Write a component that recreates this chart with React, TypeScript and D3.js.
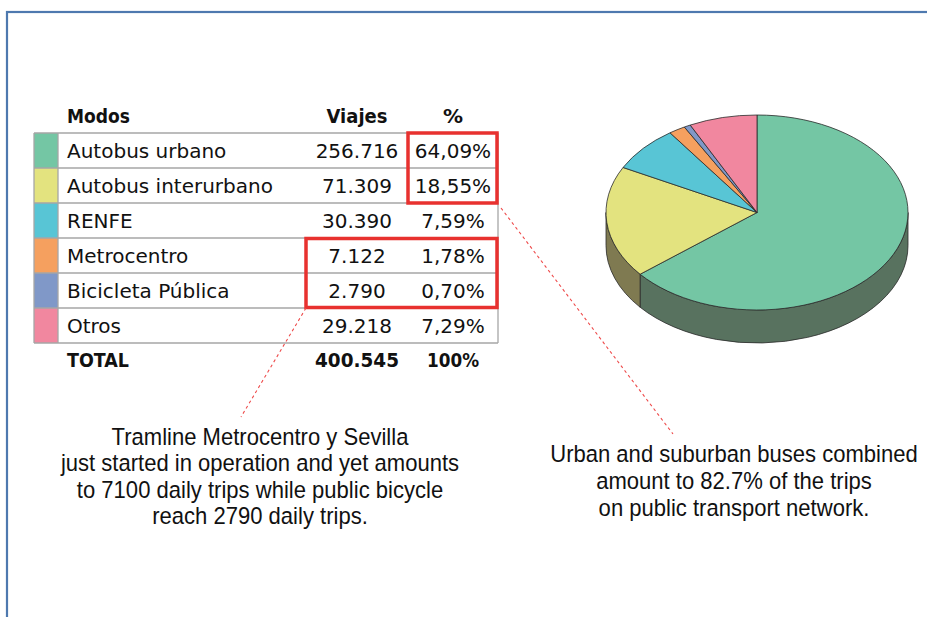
import React from "react";
import * as d3 from "d3";

// ---------- data ----------
const modes = ["Autobus urbano", "Autobus interurbano", "RENFE", "Metrocentro", "Bicicleta Pública", "Otros"];
const trips = [256716, 71309, 30390, 7122, 2790, 29218];
const shares = [64.09, 18.55, 7.59, 1.78, 0.7, 7.29];
const totalTrips = 400545;
const totalShare = 100;
const headers = ["Modos", "Viajes", "%"];
const totalLabel = "TOTAL";
const noteLeft = [
  "Tramline Metrocentro y Sevilla",
  "just started in operation and yet amounts",
  "to 7100 daily trips while public bicycle",
  "reach 2790 daily trips.",
];
const noteRight = [
  "Urban and suburban buses combined",
  "amount to 82.7% of the trips",
  "on public transport network.",
];

// ---------- style ----------
const topColors = ["#74C6A4", "#E3E37F", "#58C5D5", "#F5A05F", "#8098C8", "#F1879F"];
const sideColors = ["#58725F", "#7F7A51", "#3F7F88", "#8A5A35", "#4A5A80", "#8A4D5C"];

const W = 927;
const H = 617;
const locale = d3.formatLocale({ decimal: ",", thousands: ".", grouping: [3], currency: ["", "€"] });
const fmtTrips = locale.format(",");
const fmtPct = locale.format(".2f");

// table layout
const X0 = 34, XSW = 58, XVI = 306, XPC = 408, X1 = 498;
const ROW_TOP = 133, ROW_H = 35;
const yRow = d3.scaleBand<string>().domain(modes).range([ROW_TOP, ROW_TOP + ROW_H * modes.length]);
const TABLE_FONT = "'DejaVu Sans', Verdana, sans-serif";
const NOTE_FONT = "'Liberation Sans', Arial, Helvetica, sans-serif";

// pie layout
const CX = 757, CY = 212.5, RX = 151, RY = 97.5, DEPTH = 33;

function pt(a: number, dy = 0): string {
  return `${CX + RX * Math.sin(a)},${CY - RY * Math.cos(a) + dy}`;
}

export default function App() {
  const arcs = d3.pie<number>().sort(null).value((d) => d).startAngle(0).endAngle(2 * Math.PI)(shares);

  const tops = arcs.map((a) => {
    const large = a.endAngle - a.startAngle > Math.PI ? 1 : 0;
    return `M${CX},${CY} L${pt(a.startAngle)} A${RX},${RY} 0 ${large} 1 ${pt(a.endAngle)} Z`;
  });
  const sides = arcs.map((a) => {
    const s0 = Math.max(a.startAngle, Math.PI / 2);
    const s1 = Math.min(a.endAngle, (3 * Math.PI) / 2);
    if (s1 <= s0) return null;
    return `M${pt(s0)} A${RX},${RY} 0 0 1 ${pt(s1)} L${pt(s1, DEPTH)} A${RX},${RY} 0 0 0 ${pt(s0, DEPTH)} Z`;
  });

  const tableBottom = ROW_TOP + ROW_H * modes.length;
  const viCenter = (XVI + XPC) / 2;
  const pcCenter = (XPC + X1) / 2;
  const lineColor = "#A6A6A6";

  return (
    <div style={{ position: "absolute", left: 0, top: 0 }}>
      <svg width={W} height={H} viewBox={`0 0 ${W} ${H}`} style={{ display: "block", background: "#fff" }}>
        {/* frame */}
        <rect x={7} y={12} width={W + 50} height={H + 50} fill="none" stroke="#4E79AF" strokeWidth={2.2} />

        {/* table header */}
        <g fontFamily={TABLE_FONT} fontSize={20} fontWeight="bold" fill="#111">
          <text x={67} y={123} textLength={63} lengthAdjust="spacingAndGlyphs">{headers[0]}</text>
          <text x={viCenter} y={123} textAnchor="middle" textLength={61} lengthAdjust="spacingAndGlyphs">{headers[1]}</text>
          <text x={pcCenter} y={123} textAnchor="middle">{headers[2]}</text>
        </g>

        {/* swatches */}
        {modes.map((m, i) => (
          <rect key={m} x={X0} y={yRow(m)!} width={XSW - X0} height={yRow.bandwidth()} fill={topColors[i]} />
        ))}

        {/* grid */}
        <g stroke={lineColor} strokeWidth={1.3}>
          {d3.range(modes.length + 1).map((i) => (
            <line key={i} x1={X0} x2={X1} y1={ROW_TOP + i * ROW_H} y2={ROW_TOP + i * ROW_H} />
          ))}
          <line x1={X0} x2={X0} y1={ROW_TOP} y2={tableBottom} />
          <line x1={XSW} x2={XSW} y1={ROW_TOP} y2={tableBottom} />
          <line x1={X1} x2={X1} y1={ROW_TOP} y2={tableBottom} />
        </g>

        {/* rows */}
        <g fontFamily={TABLE_FONT} fontSize={20} fill="#111">
          {modes.map((m, i) => {
            const y = yRow(m)! + 25;
            return (
              <g key={m}>
                <text x={67} y={y}>{m}</text>
                <text x={viCenter} y={y} textAnchor="middle">{fmtTrips(trips[i])}</text>
                <text x={pcCenter} y={y} textAnchor="middle">{fmtPct(shares[i]) + "%"}</text>
              </g>
            );
          })}
        </g>

        {/* total */}
        <g fontFamily={TABLE_FONT} fontSize={20} fontWeight="bold" fill="#111">
          <text x={67} y={tableBottom + 24} textLength={62} lengthAdjust="spacingAndGlyphs">{totalLabel}</text>
          <text x={viCenter} y={tableBottom + 24} textAnchor="middle" textLength={84} lengthAdjust="spacingAndGlyphs">{fmtTrips(totalTrips)}</text>
          <text x={pcCenter} y={tableBottom + 24} textAnchor="middle" textLength={52} lengthAdjust="spacingAndGlyphs">{totalShare + "%"}</text>
        </g>

        {/* red highlight boxes */}
        <g fill="none" stroke="#E8312F" strokeWidth={3.5}>
          <rect x={XPC} y={yRow(modes[0])!} width={X1 - XPC - 1} height={ROW_H * 2} />
          <rect x={XVI} y={yRow(modes[3])! + 0.5} width={X1 - XVI - 1} height={ROW_H * 2 - 1} />
        </g>

        {/* dashed leaders */}
        <g stroke="#EE4A4A" strokeWidth={1.1} strokeDasharray="3,3">
          <line x1={XVI} y1={yRow(modes[4])! + ROW_H} x2={241} y2={417} />
          <line x1={501} y1={208} x2={673} y2={434} />
        </g>

        {/* 3D pie */}
        <g stroke="#2A2A2A" strokeWidth={0.8} strokeLinejoin="round">
          {sides.map((d, i) => (d ? <path key={"s" + i} d={d} fill={sideColors[i]} /> : null))}
          {tops.map((d, i) => (
            <path key={"t" + i} d={d} fill={topColors[i]} />
          ))}
        </g>

        {/* notes */}
        <g fontFamily={NOTE_FONT} fontSize={24.5} fill="#111" textAnchor="middle">
          <g transform="translate(260,0) scale(0.9,1)">
            {noteLeft.map((t, i) => (
              <text key={i} x={0} y={445 + i * 26.3}>{t}</text>
            ))}
          </g>
          <g transform="translate(734,0) scale(0.9,1)">
            {noteRight.map((t, i) => (
              <text key={i} x={0} y={462 + i * 27}>{t}</text>
            ))}
          </g>
        </g>
      </svg>
    </div>
  );
}
